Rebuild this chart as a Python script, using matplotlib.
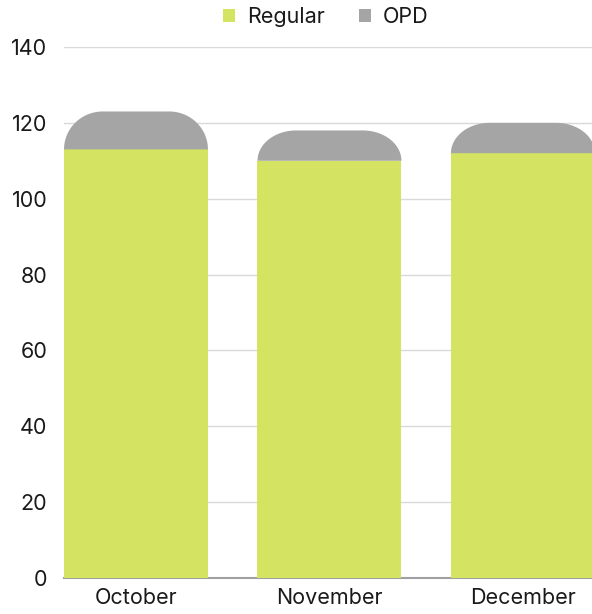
import numpy as np
import matplotlib
matplotlib.use("Agg")
import matplotlib.pyplot as plt
from matplotlib.path import Path
from matplotlib.patches import PathPatch, Patch

months = ["October", "November", "December"]
regular = [113, 110, 112]
opd = [10, 8, 8]
series_names = ["Regular", "OPD"]
colors = ["#d4e361", "#a5a5a5"]

plt.rcParams['font.family'] = ['Inter', 'DejaVu Sans']

W, H = 592, 614
fig = plt.figure(figsize=(W / 100, H / 100), dpi=100)
ax = fig.add_axes([64 / W, 1 - 578 / H, (592 - 64) / W, (578 - 47) / H])

bw = 0.744
x = np.arange(len(months))
ax.set_xlim(-bw / 2, 2.357)
ax.set_ylim(0, 140)

# bottom segments
ax.bar(x, regular, width=bw, color=colors[0], zorder=2)

# rounded-top segments
rx = 0.2
ry_max = 10.0
for xi, b, h in zip(x, regular, opd):
    ry = min(ry_max, h)
    left, right = xi - bw / 2, xi + bw / 2
    top = b + h
    t = np.linspace(0, np.pi / 2, 30)
    pts = [(left, b), (left, top - ry)]
    for tt in t:
        pts.append((left + rx - rx * np.cos(tt), top - ry + ry * np.sin(tt)))
    for tt in t[::-1]:
        pts.append((right - rx + rx * np.cos(tt), top - ry + ry * np.sin(tt)))
    pts.append((right, b))
    pts.append((left, b))
    codes = [Path.MOVETO] + [Path.LINETO] * (len(pts) - 2) + [Path.CLOSEPOLY]
    ax.add_patch(PathPatch(Path(pts, codes), facecolor=colors[1], edgecolor='none', zorder=2))

ax.set_yticks(np.arange(0, 141, 20))
ax.yaxis.grid(True, color="#d9d9d9", linewidth=1, zorder=0)
ax.set_axisbelow(True)
ax.set_xticks(x)
ax.set_xticklabels(months)
ax.tick_params(axis='both', length=0, labelsize=15.5, colors="#1a1a1a")
ax.tick_params(axis='y', pad=12)
ax.tick_params(axis='x', pad=7)
for s in ["top", "right", "left"]:
    ax.spines[s].set_visible(False)
ax.spines["bottom"].set_color("#a0a0a0")
ax.spines["bottom"].set_linewidth(1.5)
ax.spines["bottom"].set_zorder(1)

handles = [Patch(facecolor=c, edgecolor='none') for c in colors]
fig.legend(handles, series_names, loc='center', bbox_to_anchor=(326 / W, 1 - 17 / H),
           ncol=2, frameon=False, fontsize=15.5, handlelength=0.55, handleheight=0.55,
           handletextpad=0.55, columnspacing=1.6, labelcolor="#1a1a1a")

fig.savefig("out.png", dpi=100)
